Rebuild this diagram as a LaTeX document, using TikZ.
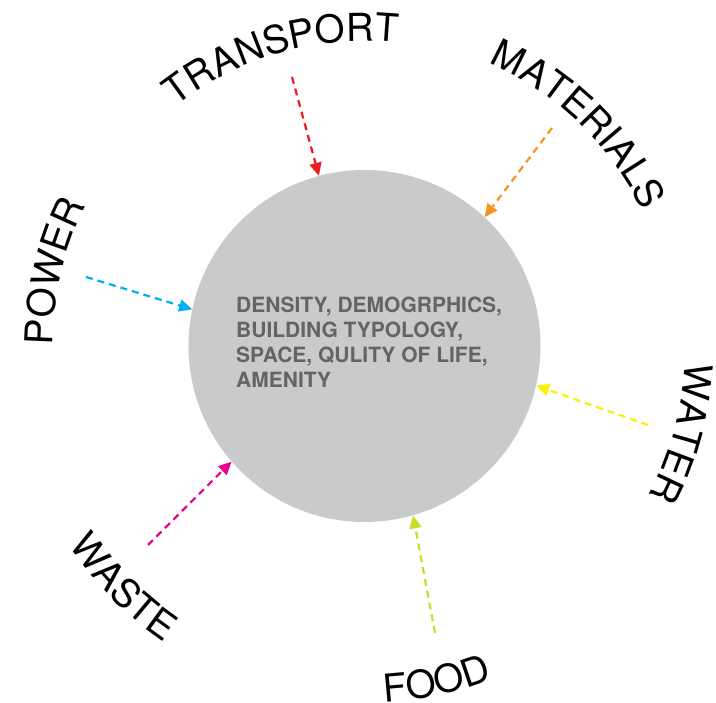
\documentclass[tikz,border=0pt]{standalone}
\usepackage{fontspec}
\usetikzlibrary{arrows.meta,decorations.text}
\newfontfamily\heros{TeX Gyre Heros}
\newcommand\lblfont{\heros\fontsize{38.5}{44}\selectfont}
\newcommand\infofont{\heros\bfseries\fontsize{21}{25}\selectfont}
\definecolor{hubgray}{RGB}{201,202,204}
\definecolor{infogray}{RGB}{99,100,102}
\definecolor{cred}{RGB}{237,28,36}
\definecolor{corange}{RGB}{247,148,29}
\definecolor{ccyan}{RGB}{0,174,239}
\definecolor{cyellow}{RGB}{255,238,0}
\definecolor{cmagenta}{RGB}{236,0,140}
\definecolor{clime}{RGB}{203,219,42}
\tikzset{
  flow/.style={line width=2.2pt, dash pattern=on 7pt off 5pt, -{Triangle[length=13pt,width=12pt]}},
  cwlabel/.style={decorate, decoration={text along path, text align=center, text={|\lblfont|#1}}},
}
\begin{document}
\begin{tikzpicture}[x=1pt,y=1pt]
\useasboundingbox (0,0) rectangle (716,703);
\node[circle, fill=hubgray, minimum size=352pt, inner sep=0pt] (hub) at (364.5,357) {};
\node[anchor=north west, align=left, inner sep=0pt, text=infogray, font=\infofont] (info) at (236,406)
  {DENSITY, DEMOGRPHICS,\\BUILDING TYPOLOGY,\\SPACE, QULITY OF LIFE,\\AMENITY};
% arrow starts
\coordinate (sT) at (292,626);
\coordinate (sM) at (552,575);
\coordinate (sP) at (86,426);
\coordinate (sW) at (648,278);
\coordinate (sX) at (148,158);
\coordinate (sF) at (435,70);
\draw[flow, cred] (sT) -- (hub.105.4);
\draw[flow, corange] (sM) -- (hub.47.9);
\draw[flow, ccyan] (sP) -- (hub.168.1);
\draw[flow, cyellow] (sW) -- (hub.-13.8);
\draw[flow, cmagenta] (sX) -- (hub.221.4);
\draw[flow, clime] (sF) -- (hub.286.5);
% labels along arcs
\begin{scope}[shift={(364.5,357)}]
\path[cwlabel=TRANSPORT] (146:305) arc[start angle=146, end angle=66, radius=305];
\path[cwlabel=MATERIALS] (86.1:309) arc[start angle=86.1, end angle=6.1, radius=309];
\path[cwlabel=POWER] (206.5:312) arc[start angle=206.5, end angle=126.5, radius=312];
\path[cwlabel=WATER] (24.6:321) arc[start angle=24.6, end angle=-55.4, radius=321];
\path[cwlabel=WASTE] (185:357) arc[start angle=185, end angle=265, radius=357];
\path[cwlabel=FOOD] (242.2:357) arc[start angle=242.2, end angle=322.2, radius=357];
\end{scope}
\end{tikzpicture}
\end{document}
